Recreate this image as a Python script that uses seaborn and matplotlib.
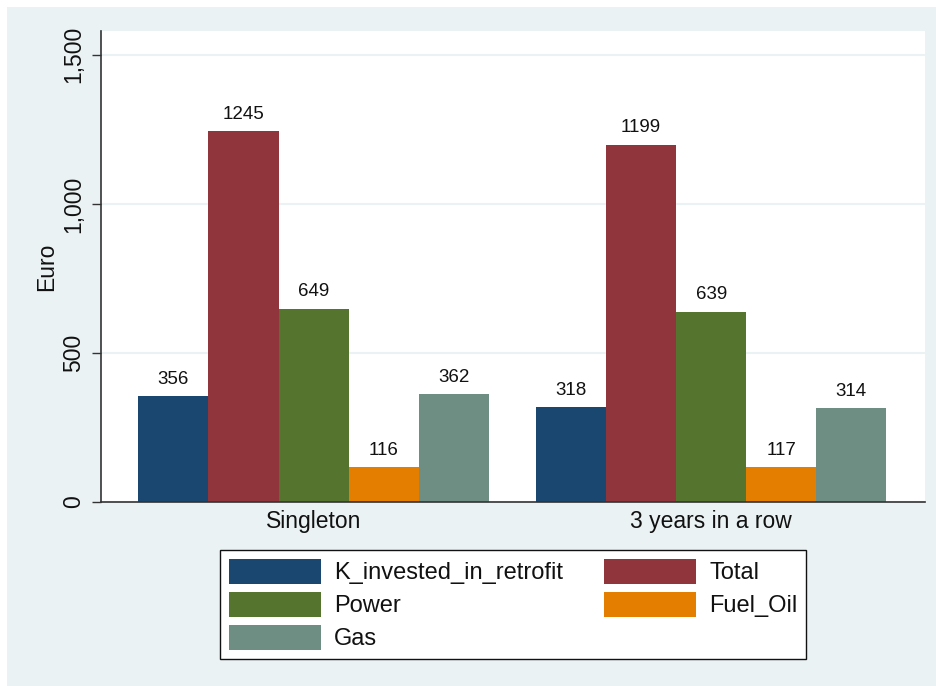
import matplotlib
matplotlib.use("Agg")
import matplotlib.pyplot as plt
import matplotlib.patches as mpatches
import pandas as pd
import seaborn as sns

groups = ["Singleton", "3 years in a row"]
series = ["K_invested_in_retrofit", "Total", "Power", "Fuel_Oil", "Gas"]
values = {
    "K_invested_in_retrofit": [356, 318],
    "Total": [1245, 1199],
    "Power": [649, 639],
    "Fuel_Oil": [116, 117],
    "Gas": [362, 314],
}
colors = ["#1a476f", "#90353b", "#55752f", "#e37e00", "#6e8e84"]
yticks = [0, 500, 1000, 1500]
ytick_labels = ["0", "500", "1,000", "1,500"]

frame = pd.DataFrame(
    [(g, s, values[s][i]) for s in series for i, g in enumerate(groups)],
    columns=["group", "series", "euro"],
)

sns.set_theme(style="white")
plt.rcParams["font.family"] = ["Liberation Sans", "DejaVu Sans"]

BG = "#eaf2f3"
fig = plt.figure(figsize=(9.36, 6.86), dpi=100, facecolor="white")
fig.patches.append(
    mpatches.Rectangle((7 / 936, 0), 1 - 7 / 936, 1 - 7 / 686,
                       transform=fig.transFigure, facecolor=BG, edgecolor="none", zorder=-10)
)
ax = fig.add_axes([101 / 936, 1 - 502 / 686, 824 / 936, 471 / 686])
ax.set_facecolor("white")

sns.barplot(
    data=frame, x="group", y="euro", hue="series",
    order=groups, hue_order=series, palette=colors,
    width=0.882, errorbar=None, saturation=1, linewidth=0, ax=ax,
)

for container in ax.containers:
    ax.bar_label(container, fmt="%d", padding=6, fontsize=13.5, color="#111111")

ax.set_xlim(-0.535, 1.538)
ax.set_ylim(0, 1580)
ax.set_yticks(yticks)
ax.set_yticklabels(ytick_labels, rotation=90, va="center", fontsize=16.5, color="#111111")
ax.tick_params(axis="y", length=6.5, width=1, color="#333333", pad=5, left=True)
ax.tick_params(axis="x", length=0, pad=6, labelsize=16.5, labelcolor="#111111")
ax.yaxis.grid(True, color=BG, linewidth=1.5)
ax.set_axisbelow(True)
ax.set_xlabel("")
ax.set_ylabel("Euro", fontsize=16.5, color="#111111", labelpad=3)

for side in ["top", "right"]:
    ax.spines[side].set_visible(False)
for side in ["left", "bottom"]:
    ax.spines[side].set_color("#333333")
    ax.spines[side].set_linewidth(1.2)

handles, labels = ax.get_legend_handles_labels()
ax.get_legend().remove()
order = [0, 2, 4, 1, 3]
leg = fig.legend(
    [handles[i] for i in order], [labels[i] for i in order],
    loc="upper center", bbox_to_anchor=(513 / 936, 1 - 550 / 686),
    borderaxespad=0, ncol=2, fontsize=17, frameon=True, fancybox=False,
    framealpha=1, handlelength=3.9, handleheight=1.23, handletextpad=0.55,
    labelspacing=0.33, columnspacing=1.75, borderpad=0.38,
)
leg.get_frame().set_edgecolor("#111111")
leg.get_frame().set_linewidth(1.0)
leg.get_frame().set_facecolor("white")
for text in leg.get_texts():
    text.set_color("#111111")

fig.savefig("out.png", dpi=100, facecolor=fig.get_facecolor())
